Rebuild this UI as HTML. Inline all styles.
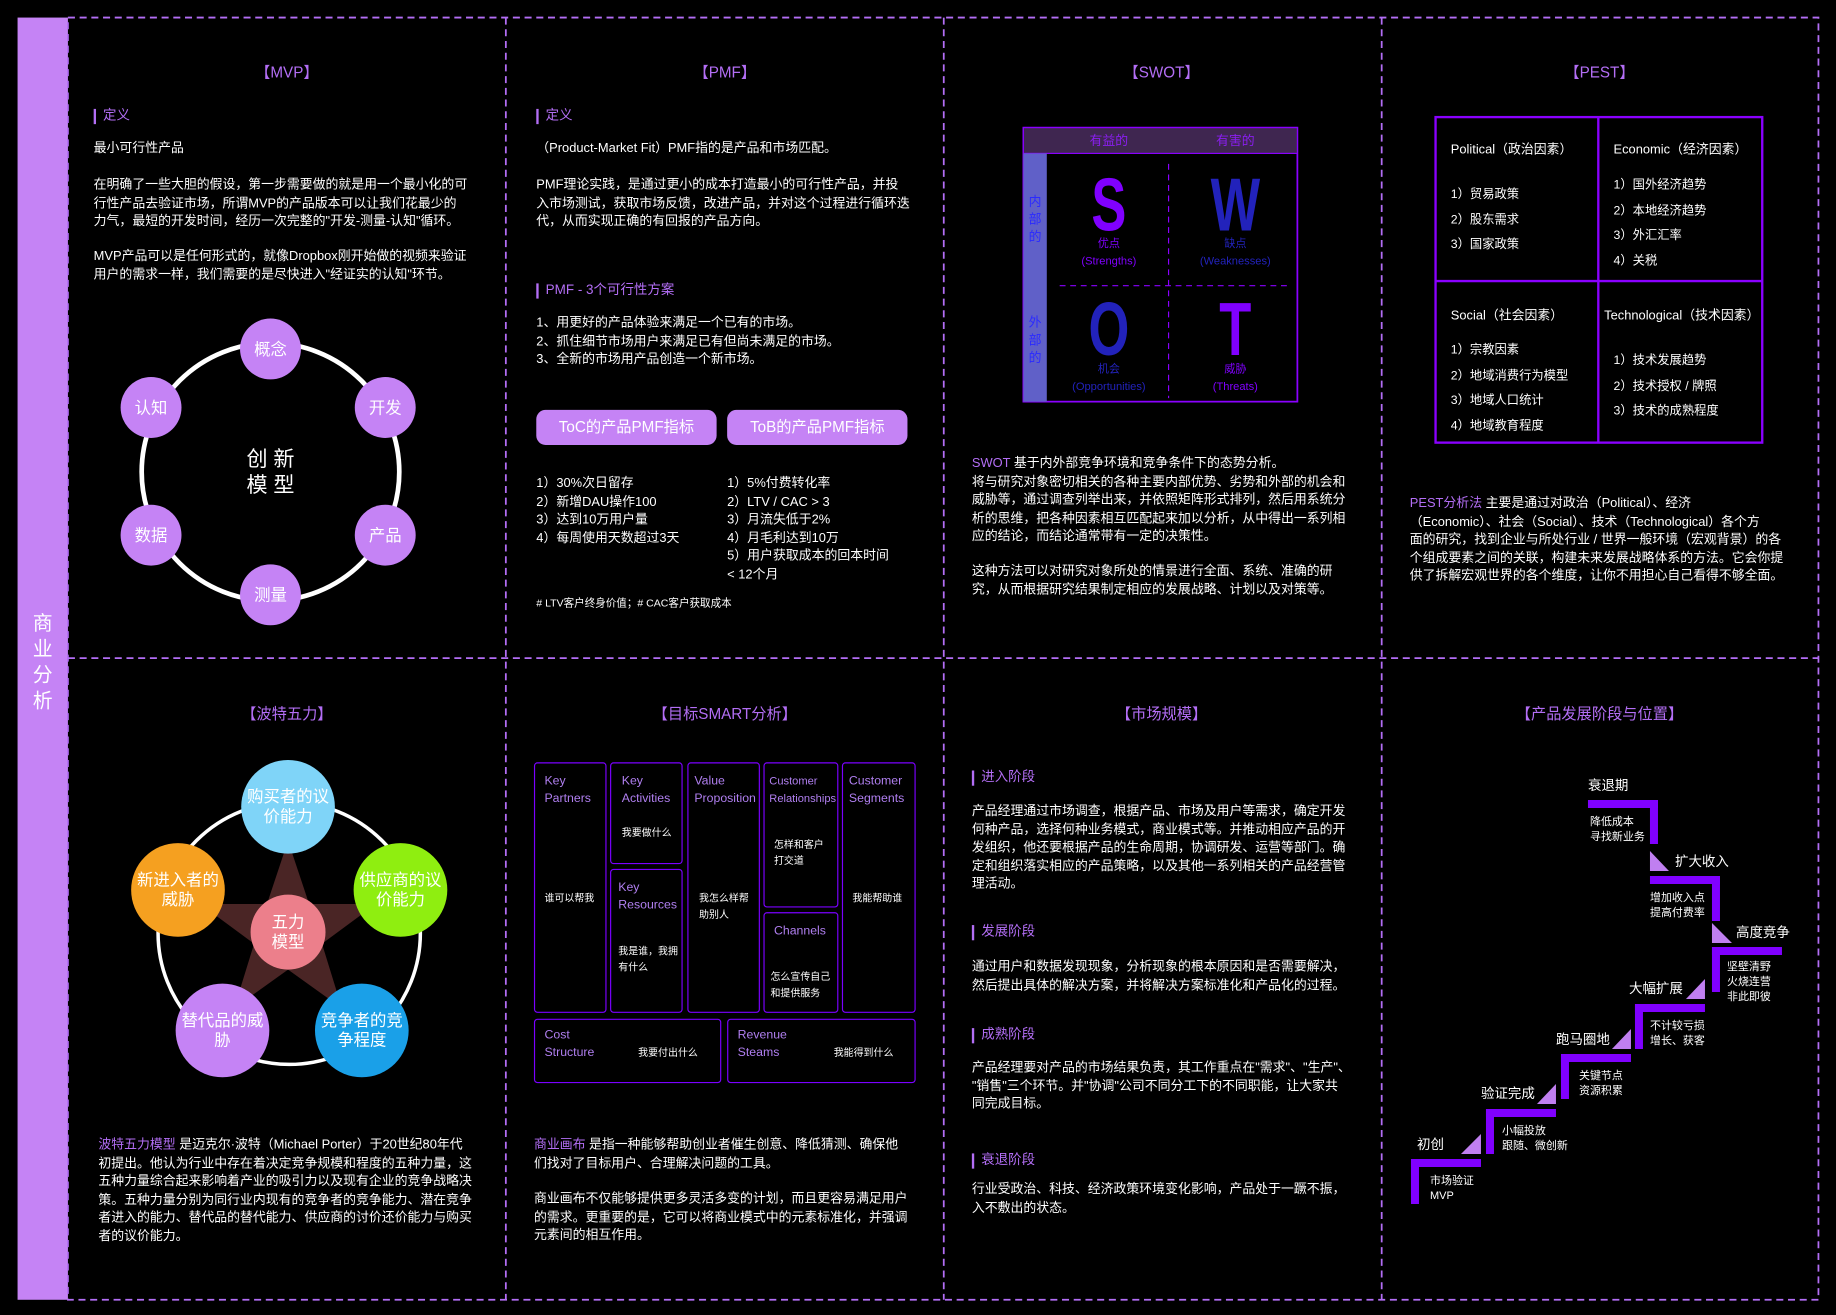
<!DOCTYPE html>
<html><head><meta charset="utf-8">
<style>
html,body{margin:0;padding:0;background:#000;width:1836px;height:1315px;overflow:hidden}
#s{position:absolute;left:0;top:0;width:1568px;height:1123px;transform:scale(1.17092,1.17097);transform-origin:0 0;font-family:"Liberation Sans","Noto Sans CJK SC",sans-serif;}
.t{position:absolute;color:#fff;font-size:11px;line-height:15.5px;white-space:nowrap;margin-top:2px}
.h{position:absolute;color:#b36ef5;font-size:13px;transform:translateX(-50%);white-space:nowrap;margin-top:-1px}
.sub{position:absolute;color:#b36ef5;font-size:11.5px;border-left:2px solid #b36ef5;padding-left:6px;line-height:13px;white-space:nowrap;margin-top:2px}
.p{color:#b36ef5}
.btn{position:absolute;background:#c583f5;color:#fff;border-radius:8px;font-size:13px;text-align:center;line-height:30px;height:30px}
.cell{position:absolute;border:1px solid #7a00ff;border-radius:3px;box-sizing:border-box}
.ch{position:absolute;color:#b07ff0;font-size:10.5px;line-height:15px}
.cs{position:absolute;color:#fff;font-size:8.5px;line-height:14px;white-space:nowrap}
</style></head><body>
<div id="s">
<svg width="1568" height="1123" style="position:absolute;left:0;top:0">
<rect x="15" y="15" width="43" height="1095" fill="#c583f5"/>
<g stroke="#b36ef5" stroke-width="1.5" stroke-dasharray="6,4" fill="none">
<rect x="58" y="15" width="1495" height="1095"/>
<line x1="432" y1="15" x2="432" y2="1110"/><line x1="806" y1="15" x2="806" y2="1110"/><line x1="1180" y1="15" x2="1180" y2="1110"/>
<line x1="58" y1="562" x2="1553" y2="562"/>
</g>
<circle cx="231" cy="403" r="110" fill="none" stroke="#fff" stroke-width="4"/>
<g fill="#c583f5">
<circle cx="231" cy="298" r="26"/><circle cx="329" cy="348" r="26"/><circle cx="329" cy="457" r="26"/>
<circle cx="231" cy="508" r="26"/><circle cx="129" cy="457" r="26"/><circle cx="129" cy="348" r="26"/>
</g>
<g fill="#fff" font-size="14" text-anchor="middle" font-family="Liberation Sans,Noto Sans CJK SC,sans-serif">
<text x="231" y="303">概念</text><text x="329" y="353">开发</text><text x="329" y="462">产品</text>
<text x="231" y="513">测量</text><text x="129" y="462">数据</text><text x="129" y="353">认知</text>
<text x="231" y="398" font-size="18">创 新</text><text x="231" y="420" font-size="18">模 型</text>
</g>
<g>
<rect x="874" y="109" width="234" height="234" fill="#000" stroke="#8a00ff" stroke-width="1.5"/>
<rect x="874" y="109" width="234" height="22" fill="#3f2650" stroke="#8a00ff"/>
<rect x="874" y="131" width="20" height="212" fill="#6060c8"/>
<line x1="998" y1="140" x2="998" y2="340" stroke="#8a00ff" stroke-dasharray="5,4"/>
<line x1="905" y1="244" x2="1100" y2="244" stroke="#8a00ff" stroke-dasharray="5,4"/>
<g font-family="Liberation Sans,Noto Sans CJK SC,sans-serif" text-anchor="middle">
<text x="947" y="124" fill="#8a1ef0" font-size="11">有益的</text><text x="1055" y="124" fill="#8a1ef0" font-size="11">有害的</text>
<text x="884" y="176" fill="#2a2aff" font-size="11">内</text><text x="884" y="191" fill="#2a2aff" font-size="11">部</text><text x="884" y="206" fill="#2a2aff" font-size="11">的</text>
<text x="884" y="279" fill="#2a2aff" font-size="11">外</text><text x="884" y="294" fill="#2a2aff" font-size="11">部</text><text x="884" y="309" fill="#2a2aff" font-size="11">的</text>
<text x="947" y="197" fill="#8000ff" font-size="64" font-weight="bold" transform="translate(947 0) scale(0.7 1) translate(-947 0)">S</text>
<text x="1055" y="197" fill="#2222bb" font-size="64" font-weight="bold" transform="translate(1055 0) scale(0.7 1) translate(-1055 0)">W</text>
<text x="947" y="303" fill="#2222bb" font-size="64" font-weight="bold" transform="translate(947 0) scale(0.7 1) translate(-947 0)">O</text>
<text x="1055" y="303" fill="#8000ff" font-size="64" font-weight="bold" transform="translate(1055 0) scale(0.7 1) translate(-1055 0)">T</text>
<text x="947" y="211" fill="#8000ff" font-size="9.5">优点</text><text x="947" y="226" fill="#8000ff" font-size="9.5">(Strengths)</text>
<text x="1055" y="211" fill="#2222bb" font-size="9.5">缺点</text><text x="1055" y="226" fill="#2222bb" font-size="9.5">(Weaknesses)</text>
<text x="947" y="318" fill="#2222bb" font-size="9.5">机会</text><text x="947" y="333" fill="#2222bb" font-size="9.5">(Opportunities)</text>
<text x="1055" y="318" fill="#8000ff" font-size="9.5">威胁</text><text x="1055" y="333" fill="#8000ff" font-size="9.5">(Threats)</text>
</g></g>
<g fill="none" stroke="#8a00ff" stroke-width="2">
<rect x="1226" y="100" width="279" height="278"/><line x1="1365" y1="100" x2="1365" y2="378"/><line x1="1226" y1="240" x2="1505" y2="240"/>
</g>
<g>
<circle cx="247" cy="797" r="112" fill="none" stroke="#fff" stroke-width="3"/>
<polygon points="246,718 264,772 321,772 275,806 292,861 246,828 200,861 217,806 171,772 228,772" fill="#4a2525"/>
<circle cx="246" cy="689" r="40" fill="#7fd4f8"/><circle cx="342" cy="760" r="40" fill="#8fee10"/>
<circle cx="309" cy="880" r="40" fill="#1aa0e8"/><circle cx="190" cy="880" r="40" fill="#c583f5"/>
<circle cx="152" cy="760" r="40" fill="#f5a020"/><circle cx="246" cy="796" r="32" fill="#ec7f8b"/>
<g fill="#fff" font-size="14" text-anchor="middle" font-family="Liberation Sans,Noto Sans CJK SC,sans-serif">
<text x="246" y="685">购买者的议</text><text x="246" y="702">价能力</text>
<text x="342" y="756">供应商的议</text><text x="342" y="773">价能力</text>
<text x="309" y="876">竞争者的竞</text><text x="309" y="893">争程度</text>
<text x="190" y="876">替代品的威</text><text x="190" y="893">胁</text>
<text x="152" y="756">新进入者的</text><text x="152" y="773">威胁</text>
<text x="246" y="792">五力</text><text x="246" y="809">模型</text>
</g></g>
</svg>
<div class="t" style="left:28px;top:520px;font-size:17px;line-height:22px;width:18px;white-space:normal">商业分析</div>

<div class="h" style="left:245px;top:52px">【MVP】</div>
<div class="sub" style="left:80px;top:91px">定义</div>
<div class="t" style="left:80px;top:118px">最小可行性产品</div>
<div class="t" style="left:80px;top:149px">在明确了一些大胆的假设，第一步需要做的就是用一个最小化的可<br>行性产品去验证市场，所谓MVP的产品版本可以让我们花最少的<br>力气，最短的开发时间，经历一次完整的"开发-测量-认知"循环。</div>
<div class="t" style="left:80px;top:210px">MVP产品可以是任何形式的，就像Dropbox刚开始做的视频来验证<br>用户的需求一样，我们需要的是尽快进入"经证实的认知"环节。</div>

<div class="h" style="left:619px;top:52px">【PMF】</div>
<div class="sub" style="left:458px;top:91px">定义</div>
<div class="t" style="left:458px;top:118px">（Product-Market Fit）PMF指的是产品和市场匹配。</div>
<div class="t" style="left:458px;top:149px">PMF理论实践，是通过更小的成本打造最小的可行性产品，并投<br>入市场测试，获取市场反馈，改进产品，并对这个过程进行循环迭<br>代，从而实现正确的有回报的产品方向。</div>
<div class="sub" style="left:458px;top:240px">PMF - 3个可行性方案</div>
<div class="t" style="left:458px;top:267px">1、用更好的产品体验来满足一个已有的市场。<br>2、抓住细节市场用户来满足已有但尚未满足的市场。<br>3、全新的市场用产品创造一个新市场。</div>
<div class="btn" style="left:458px;top:350px;width:154px">ToC的产品PMF指标</div>
<div class="btn" style="left:621px;top:350px;width:154px">ToB的产品PMF指标</div>
<div class="t" style="left:458px;top:404px">1）30%次日留存<br>2）新增DAU操作100<br>3）达到10万用户量<br>4）每周使用天数超过3天</div>
<div class="t" style="left:621px;top:404px">1）5%付费转化率<br>2）LTV / CAC &gt; 3<br>3）月流失低于2%<br>4）月毛利达到10万<br>5）用户获取成本的回本时间<br>&lt; 12个月</div>
<div class="t" style="left:458px;top:506px;font-size:9px"># LTV客户终身价值；# CAC客户获取成本</div>

<div class="h" style="left:992px;top:52px">【SWOT】</div>
<div class="t" style="left:830px;top:387px"><span class="p">SWOT</span> 基于内外部竞争环境和竞争条件下的态势分析。<br>将与研究对象密切相关的各种主要内部优势、劣势和外部的机会和<br>威胁等，通过调查列举出来，并依照矩阵形式排列，然后用系统分<br>析的思维，把各种因素相互匹配起来加以分析，从中得出一系列相<br>应的结论，而结论通常带有一定的决策性。</div>
<div class="t" style="left:830px;top:479px">这种方法可以对研究对象所处的情景进行全面、系统、准确的研<br>究，从而根据研究结果制定相应的发展战略、计划以及对策等。</div>

<div class="h" style="left:1366px;top:52px">【PEST】</div>
<div class="t" style="left:1239px;top:119px;font-size:11px">Political（政治因素）</div>
<div class="t" style="left:1239px;top:154px;line-height:21.5px;font-size:10.5px">1）贸易政策<br>2）股东需求<br>3）国家政策</div>
<div class="t" style="left:1378px;top:119px;font-size:11px">Economic（经济因素）</div>
<div class="t" style="left:1378px;top:146px;line-height:21.5px;font-size:10.5px">1）国外经济趋势<br>2）本地经济趋势<br>3）外汇汇率<br>4）关税</div>
<div class="t" style="left:1239px;top:261px;font-size:11px">Social（社会因素）</div>
<div class="t" style="left:1239px;top:287px;line-height:21.5px;font-size:10.5px">1）宗教因素<br>2）地域消费行为模型<br>3）地域人口统计<br>4）地域教育程度</div>
<div class="t" style="left:1370px;top:261px;font-size:11px">Technological（技术因素）</div>
<div class="t" style="left:1378px;top:296px;line-height:21.5px;font-size:10.5px">1）技术发展趋势<br>2）技术授权 / 牌照<br>3）技术的成熟程度</div>
<div class="t" style="left:1204px;top:421px"><span class="p">PEST分析法</span> 主要是通过对政治（Political）、经济<br>（Economic）、社会（Social）、技术（Technological）各个方<br>面的研究，找到企业与所处行业 / 世界一般环境（宏观背景）的各<br>个组成要素之间的关联，构建未来发展战略体系的方法。它会你提<br>供了拆解宏观世界的各个维度，让你不用担心自己看得不够全面。</div>

<div class="h" style="left:245px;top:600px">【波特五力】</div>
<div class="t" style="left:84px;top:969px"><span class="p">波特五力模型</span> 是迈克尔·波特（Michael Porter）于20世纪80年代<br>初提出。他认为行业中存在着决定竞争规模和程度的五种力量，这<br>五种力量综合起来影响着产业的吸引力以及现有企业的竞争战略决<br>策。五种力量分别为同行业内现有的竞争者的竞争能力、潜在竞争<br>者进入的能力、替代品的替代能力、供应商的讨价还价能力与购买<br>者的议价能力。</div>

<div class="h" style="left:619px;top:600px">【目标SMART分析】</div>
<div class="cell" style="left:456px;top:651px;width:62px;height:214px"><div class="ch" style="left:8px;top:8px">Key<br>Partners</div><div class="cs" style="left:8px;top:108px">谁可以帮我</div></div>
<div class="cell" style="left:521px;top:651px;width:62px;height:87px"><div class="ch" style="left:9px;top:8px">Key<br>Activities</div><div class="cs" style="left:9px;top:52px">我要做什么</div></div>
<div class="cell" style="left:521px;top:742px;width:62px;height:123px"><div class="ch" style="left:6px;top:8px">Key<br>Resources</div><div class="cs" style="left:6px;top:62px">我是谁，我拥<br>有什么</div></div>
<div class="cell" style="left:587px;top:651px;width:62px;height:214px"><div class="ch" style="left:5px;top:8px">Value<br>Proposition</div><div class="cs" style="left:9px;top:108px">我怎么样帮<br>助别人</div></div>
<div class="cell" style="left:652px;top:651px;width:64px;height:124px"><div class="ch" style="left:4px;top:8px;font-size:9.5px">Customer<br>Relationships</div><div class="cs" style="left:8px;top:62px">怎样和客户<br>打交道</div></div>
<div class="cell" style="left:652px;top:779px;width:64px;height:86px"><div class="ch" style="left:8px;top:8px">Channels</div><div class="cs" style="left:5px;top:47px">怎么宣传自己<br>和提供服务</div></div>
<div class="cell" style="left:719px;top:651px;width:63px;height:214px"><div class="ch" style="left:5px;top:8px">Customer<br>Segments</div><div class="cs" style="left:8px;top:108px">我能帮助谁</div></div>
<div class="cell" style="left:456px;top:870px;width:160px;height:55px"><div class="ch" style="left:8px;top:6px">Cost<br>Structure</div><div class="cs" style="left:88px;top:21px">我要付出什么</div></div>
<div class="cell" style="left:621px;top:870px;width:161px;height:55px"><div class="ch" style="left:8px;top:6px">Revenue<br>Steams</div><div class="cs" style="left:90px;top:21px">我能得到什么</div></div>
<div class="t" style="left:456px;top:969px"><span class="p">商业画布</span> 是指一种能够帮助创业者催生创意、降低猜测、确保他<br>们找对了目标用户、合理解决问题的工具。</div>
<div class="t" style="left:456px;top:1015px">商业画布不仅能够提供更多灵活多变的计划，而且更容易满足用户<br>的需求。更重要的是，它可以将商业模式中的元素标准化，并强调<br>元素间的相互作用。</div>

<div class="h" style="left:992px;top:600px">【市场规模】</div>
<div class="sub" style="left:830px;top:656px">进入阶段</div>
<div class="t" style="left:830px;top:684px">产品经理通过市场调查，根据产品、市场及用户等需求，确定开发<br>何种产品，选择何种业务模式，商业模式等。并推动相应产品的开<br>发组织，他还要根据产品的生命周期，协调研发、运营等部门。确<br>定和组织落实相应的产品策略，以及其他一系列相关的产品经营管<br>理活动。</div>
<div class="sub" style="left:830px;top:788px">发展阶段</div>
<div class="t" style="left:830px;top:817px">通过用户和数据发现现象，分析现象的根本原因和是否需要解决，<br>然后提出具体的解决方案，并将解决方案标准化和产品化的过程。</div>
<div class="sub" style="left:830px;top:876px">成熟阶段</div>
<div class="t" style="left:830px;top:903px">产品经理要对产品的市场结果负责，其工作重点在"需求"、"生产"、<br>"销售"三个环节。并"协调"公司不同分工下的不同职能，让大家共<br>同完成目标。</div>
<div class="sub" style="left:830px;top:983px">衰退阶段</div>
<div class="t" style="left:830px;top:1007px">行业受政治、科技、经济政策环境变化影响，产品处于一蹶不振，<br>入不敷出的状态。</div>

<div class="h" style="left:1366px;top:600px">【产品发展阶段与位置】</div>
<svg width="1568" height="1123" viewBox="0 0 1836 1315" style="position:absolute;left:0;top:0">
<g fill="#8000ff">
<rect x="1588" y="800" width="70" height="8"/><rect x="1650" y="800" width="8" height="44"/>
<rect x="1650" y="876" width="70" height="8"/><rect x="1712" y="876" width="8" height="45"/>
<rect x="1712" y="947" width="70" height="8"/><rect x="1712" y="947" width="8" height="45"/>
<rect x="1635" y="1004" width="70" height="8"/><rect x="1635" y="1004" width="8" height="45"/>
<rect x="1561" y="1054" width="70" height="8"/><rect x="1561" y="1054" width="8" height="45"/>
<rect x="1486" y="1109" width="70" height="8"/><rect x="1486" y="1109" width="8" height="45"/>
<rect x="1411" y="1159" width="70" height="8"/><rect x="1411" y="1159" width="8" height="45"/>
</g>
<g fill="#c07ff0">
<polygon points="1650,851 1650,871 1669,871"/><polygon points="1712,923 1712,943 1732,943"/>
<polygon points="1705,979 1705,999 1686,999"/><polygon points="1631,1029 1631,1049 1612,1049"/>
<polygon points="1556,1084 1556,1104 1537,1104"/><polygon points="1481,1134 1481,1154 1461,1154"/>
</g>
<g fill="#fff" font-family="Liberation Sans,Noto Sans CJK SC,sans-serif" font-size="13.5">
<text x="1588" y="790">衰退期</text><text x="1675" y="866">扩大收入</text><text x="1736" y="937">高度竞争</text>
<text x="1629" y="993">大幅扩展</text><text x="1556" y="1044">跑马圈地</text><text x="1481" y="1098">验证完成</text><text x="1417" y="1149">初创</text>
</g>
<g fill="#fff" font-family="Liberation Sans,Noto Sans CJK SC,sans-serif" font-size="11">
<text x="1590" y="825">降低成本</text><text x="1590" y="840">寻找新业务</text>
<text x="1650" y="901">增加收入点</text><text x="1650" y="916">提高付费率</text>
<text x="1727" y="970">坚壁清野</text><text x="1727" y="985">火烧连营</text><text x="1727" y="1000">非此即彼</text>
<text x="1650" y="1029">不计较亏损</text><text x="1650" y="1044">增长、获客</text>
<text x="1579" y="1079">关键节点</text><text x="1579" y="1094">资源积累</text>
<text x="1502" y="1134">小幅投放</text><text x="1502" y="1149">跟随、微创新</text>
<text x="1430" y="1184">市场验证</text><text x="1430" y="1199">MVP</text>
</g>
</svg>
</div>
</body></html>
